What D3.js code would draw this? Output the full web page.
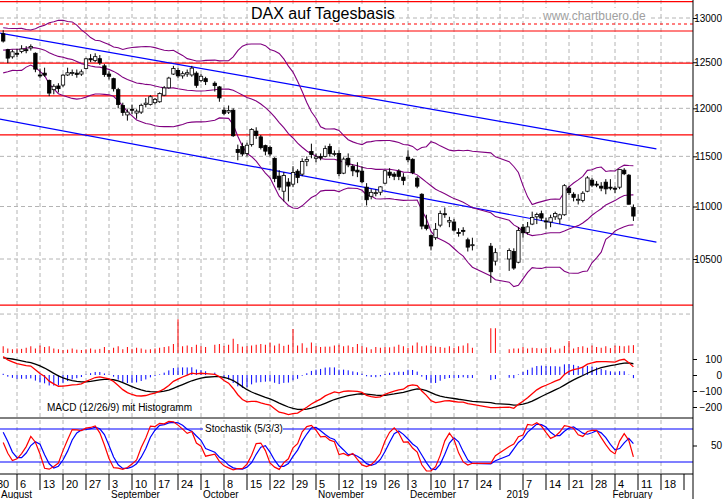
<!DOCTYPE html>
<html>
<head>
<meta charset="utf-8">
<script src="https://cdn.jsdelivr.net/npm/d3@7"></script>
<style>
body { margin: 0; background: #fff; }
text { font-family: Arial, "Liberation Sans", sans-serif; }
</style>
</head>
<body>
<svg id="chart" width="723" height="499"></svg>
<script>
// trading days, July rows are only history for the indicators
var days = ["2018-07-02","2018-07-03","2018-07-04","2018-07-05","2018-07-06","2018-07-09","2018-07-10","2018-07-11","2018-07-12","2018-07-13","2018-07-16","2018-07-17","2018-07-18","2018-07-19","2018-07-20","2018-07-23","2018-07-24","2018-07-25","2018-07-26","2018-07-27","2018-07-30","2018-07-31",
"2018-08-01","2018-08-02","2018-08-03","2018-08-06","2018-08-07","2018-08-08","2018-08-09","2018-08-10","2018-08-13","2018-08-14","2018-08-15","2018-08-16","2018-08-17","2018-08-20","2018-08-21","2018-08-22","2018-08-23","2018-08-24","2018-08-27","2018-08-28","2018-08-29","2018-08-30","2018-08-31",
"2018-09-03","2018-09-04","2018-09-05","2018-09-06","2018-09-07","2018-09-10","2018-09-11","2018-09-12","2018-09-13","2018-09-14","2018-09-17","2018-09-18","2018-09-19","2018-09-20","2018-09-21","2018-09-24","2018-09-25","2018-09-26","2018-09-27","2018-09-28",
"2018-10-01","2018-10-02","2018-10-04","2018-10-05","2018-10-08","2018-10-09","2018-10-10","2018-10-11","2018-10-12","2018-10-15","2018-10-16","2018-10-17","2018-10-18","2018-10-19","2018-10-22","2018-10-23","2018-10-24","2018-10-25","2018-10-26","2018-10-29","2018-10-30","2018-10-31",
"2018-11-01","2018-11-02","2018-11-05","2018-11-06","2018-11-07","2018-11-08","2018-11-09","2018-11-12","2018-11-13","2018-11-14","2018-11-15","2018-11-16","2018-11-19","2018-11-20","2018-11-21","2018-11-22","2018-11-23","2018-11-26","2018-11-27","2018-11-28","2018-11-29","2018-11-30",
"2018-12-03","2018-12-04","2018-12-05","2018-12-06","2018-12-07","2018-12-10","2018-12-11","2018-12-12","2018-12-13","2018-12-14","2018-12-17","2018-12-18","2018-12-19","2018-12-20","2018-12-21","2018-12-27","2018-12-28",
"2019-01-02","2019-01-03","2019-01-04","2019-01-07","2019-01-08","2019-01-09","2019-01-10","2019-01-11","2019-01-14","2019-01-15","2019-01-16","2019-01-17","2019-01-18","2019-01-21","2019-01-22","2019-01-23","2019-01-24","2019-01-25","2019-01-28","2019-01-29","2019-01-30","2019-01-31",
"2019-02-01","2019-02-04","2019-02-05","2019-02-06","2019-02-07","2019-02-08"];

var open = [12300,12270,12340,12350,12440,12550,12620,12480,12470,12500,12560,12560,12680,12730,12680,12520,12640,12670,12720,12840,12830,12760,
12820,12640,12560,12600,12620,12640,12660,12600,12360,12380,12300,12200,12240,12250,12360,12380,12380,12370,12430,12540,12520,12540,12460,
12370,12320,12200,12030,11930,11990,11950,11960,12040,12040,12060,12070,12140,12220,12370,12410,12350,12370,12360,12380,
12300,12320,12270,12230,11980,11960,11980,11570,11600,11530,11620,11760,11700,11610,11590,11480,11300,11150,11240,11220,11350,11320,
11450,11550,11480,11500,11500,11600,11520,11530,11330,11480,11400,11360,11350,11190,11100,11130,11140,11230,11340,11320,11350,11290,
11490,11470,11280,11120,10820,10720,10700,10820,10930,10850,10850,10750,10770,10680,10630,10620,10480,
10500,10570,10470,10800,10750,10830,10900,10930,10860,10850,10900,10880,10920,11180,11120,11070,11060,11150,11260,11220,11200,11240,
11190,11180,11190,11360,11310,10990];
var high = [12330,12380,12360,12480,12510,12630,12660,12500,12510,12550,12590,12670,12780,12760,12700,12560,12730,12700,12830,12890,12850,12830,
12860,12650,12640,12650,12690,12680,12700,12610,12430,12440,12310,12260,12270,12370,12440,12420,12420,12420,12550,12590,12600,12580,12480,
12400,12330,12220,12060,11990,12040,11990,12050,12110,12140,12110,12170,12240,12340,12460,12440,12400,12420,12460,12400,
12370,12340,12290,12240,12010,12030,12000,11620,11640,11640,11790,11800,11720,11620,11610,11490,11360,11340,11280,11400,11370,11480,
11500,11630,11530,11530,11610,11630,11560,11560,11490,11530,11420,11440,11400,11230,11170,11170,11200,11360,11380,11340,11370,11330,
11560,11480,11300,11130,10920,10730,10840,10960,10990,10900,10880,10790,10800,10700,10700,10650,10600,
10600,10600,10800,10830,10850,10950,10940,10960,10890,10920,10950,10930,11220,11200,11140,11120,11150,11300,11280,11250,11240,11270,
11270,11200,11370,11380,11320,11020];
var low = [12105,12230,12280,12330,12380,12540,12590,12390,12440,12480,12520,12540,12670,12650,12540,12480,12620,12560,12700,12790,12770,12740,
12720,12490,12540,12560,12600,12600,12630,12390,12330,12340,12130,12150,12170,12230,12350,12350,12330,12350,12420,12500,12500,12470,12340,
12310,12180,12000,11920,11870,11940,11890,11940,12010,12030,12040,12060,12130,12210,12360,12330,12320,12340,12340,12220,
12280,12250,12180,12070,11930,11940,11700,11460,11500,11500,11600,11680,11570,11510,11500,11240,11160,11050,11050,11190,11230,11300,
11400,11480,11440,11460,11490,11500,11500,11300,11320,11390,11300,11290,11230,11010,11070,11100,11110,11220,11280,11260,11260,11210,
11440,11320,11180,10780,10770,10580,10680,10800,10890,10800,10760,10710,10720,10570,10580,10280,10440,
10390,10400,10460,10700,10730,10820,10830,10860,10780,10800,10870,10830,10910,11110,11050,11020,11040,11140,11190,11190,11150,11120,
11160,11130,11170,11310,11020,10860];
var close = [12238,12349,12318,12465,12496,12609,12621,12417,12492,12541,12562,12661,12765,12686,12561,12548,12690,12579,12810,12860,12799,12806,
12737,12546,12616,12598,12648,12634,12676,12424,12358,12358,12163,12237,12211,12358,12384,12386,12365,12394,12538,12527,12562,12494,12364,
12346,12210,12040,11955,11960,11987,11970,12032,12055,12124,12096,12158,12219,12326,12431,12350,12374,12385,12435,12247,
12346,12287,12244,12111,11947,11977,11712,11539,11524,11614,11777,11715,11589,11553,11524,11275,11191,11307,11201,11336,11287,11447,
11468,11519,11495,11484,11579,11527,11529,11325,11472,11413,11353,11342,11244,11066,11139,11136,11193,11354,11309,11299,11298,11257,
11465,11335,11200,10811,10788,10622,10780,10931,10924,10865,10772,10740,10766,10611,10634,10382,10559,
10580,10416,10768,10747,10803,10893,10922,10888,10856,10891,10932,10919,11205,11136,11090,11071,11130,11282,11210,11218,11181,11173,
11180,11176,11368,11324,11022,10907];
var volume = [80,70,60,75,70,65,70,80,70,65,60,70,75,70,80,65,75,80,70,75,70,80,
90,60,50,60,55,70,90,60,100,80,90,60,50,40,45,60,45,40,50,60,45,55,80,
40,70,90,50,80,55,70,60,45,50,60,70,80,90,120,450,90,100,80,110,
90,80,110,120,95,110,190,120,85,90,100,110,120,110,140,100,125,95,110,320,100,130,
70,140,90,80,85,85,100,110,90,100,80,120,90,75,50,80,70,80,75,85,110,90,
70,100,140,90,100,95,85,80,70,90,70,90,100,130,70,330,330,
50,60,60,80,60,70,65,60,70,75,45,60,95,160,60,80,90,70,100,80,70,90,
65,100,95,90,100,105];

var priceTicks = [10500, 11000, 11500, 12000, 12500, 13000];
var levels = [13190, 12851, 12490, 12133, 11720, 10080];
var dottedLevel = 12931;
var trendUpper = [["2018-07-30", 12840], ["2019-02-15", 11576]];
var trendLower = [["2018-07-30", 11898], ["2019-02-15", 10659]];
var macdTicks = [100, 0, -100, -200];
var weekLabels = ["30","6","13","20","27","3","10","17","24","1","8","15","22","29","5","12","19","26","3","10","17","24","","7","14","21","28","4","11","18"];
var monthLabels = [["August","2018-07-31"],["September","2018-09-03"],["October","2018-10-01"],["November","2018-11-05"],["December","2018-12-03"],["2019","2019-01-01"],["February","2019-02-01"]];

var parse = d3.timeParse("%Y-%m-%d");
var t0 = parse("2018-07-30");
// weekday index since Monday 30 July
function wd(s) {
    var d = parse(s);
    var n = Math.round((d - t0) / 864e5);
    return Math.floor(n / 7) * 5 + (n % 7);
}

var data = days.map((d, i) => ({
    date: d, i: wd(d), o: open[i], h: high[i], l: low[i], c: close[i], v: volume[i]
}));

// indicators
data.forEach((d, i) => {
    if (i >= 19) {
        var w = data.slice(i - 19, i + 1).map(e => e.c);
        var m = d3.mean(w);
        var sd = Math.sqrt(d3.mean(w, x => (x - m) * (x - m)));
        d.mid = m; d.up = m + 2 * sd; d.lo = m - 2 * sd;
    }
});
var e12, e26, sig;
data.forEach((d, i) => {
    if (i === 0) { e12 = d.c; e26 = d.c; }
    e12 = e12 + (d.c - e12) * 2 / 13;
    e26 = e26 + (d.c - e26) * 2 / 27;
    d.macd = e12 - e26;
    sig = i === 0 ? d.macd : sig + (d.macd - sig) * 2 / 10;
    d.sig = sig;
    d.hist = d.macd - d.sig;
});
data.forEach((d, i) => {
    if (i >= 4) {
        var w = data.slice(i - 4, i + 1);
        var hh = d3.max(w, e => e.h), ll = d3.min(w, e => e.l);
        d.raw = (d.c - ll) / (hh - ll) * 100;
    }
});
data.forEach((d, i) => {
    if (i >= 6) d.k = d3.mean(data.slice(i - 2, i + 1), e => e.raw);
});
data.forEach((d, i) => {
    if (i >= 8) d.dd = d3.mean(data.slice(i - 2, i + 1), e => e.k);
});

var shown = data.filter(d => d.date >= "2018-08-01");

var svg = d3.select("#chart");
var x = d3.scaleLinear().domain([0, 1]).range([-6, -1.4]);
var right = 693;
var y = d3.scaleLog().domain([10500, 13000]).range([259, 18]);
var ym = d3.scaleLinear().domain([0, 100]).range([375, 359]);
var yv = d3.scaleLinear().domain([0, 100]).range([353, 345.5]);
var ys = d3.scaleLinear().domain([0, 100]).range([473, 418]);

var defs = svg.append("defs");
defs.append("clipPath").attr("id", "pc").append("rect").attr("x", 0).attr("y", 0).attr("width", right).attr("height", 318);

// vertical grid on Mondays
var mondays = d3.range(1, 30);
svg.selectAll(".vg").data(mondays).enter().append("line")
    .attr("x1", k => x(k * 5)).attr("x2", k => x(k * 5))
    .attr("y1", 0).attr("y2", 474)
    .attr("stroke", "#b4b4b4").attr("stroke-dasharray", "4,3");
svg.selectAll(".hg").data([10000].concat(priceTicks)).enter().append("line")
    .attr("x1", 0).attr("x2", right).attr("y1", d => y(d)).attr("y2", d => y(d))
    .attr("stroke", "#b4b4b4").attr("stroke-dasharray", "4,3");

// title
svg.append("rect").attr("x", 248).attr("y", 4).attr("width", 144).attr("height", 19).attr("fill", "#fff");
svg.append("text").attr("x", 251).attr("y", 19).attr("font-size", 16).text("DAX auf Tagesbasis");
svg.append("rect").attr("x", 541).attr("y", 8).attr("width", 108).attr("height", 14).attr("fill", "#fff");
svg.append("text").attr("x", 543).attr("y", 20).attr("font-size", 12).attr("fill", "#a0a0a0").text("www.chartbuero.de");

var pg = svg.append("g").attr("clip-path", "url(#pc)");

// horizontal levels
pg.selectAll(".lv").data(levels).enter().append("line")
    .attr("x1", 0).attr("x2", right).attr("y1", d => y(d)).attr("y2", d => y(d))
    .attr("stroke", "#ff0000").attr("stroke-width", 1.2);
pg.append("line").attr("x1", 0).attr("x2", right).attr("y1", y(dottedLevel)).attr("y2", y(dottedLevel))
    .attr("stroke", "#ff0000").attr("stroke-dasharray", "3,3");

// trend lines
[trendUpper, trendLower].forEach(t => {
    pg.append("line")
        .attr("x1", x(wd(t[0][0]))).attr("y1", y(t[0][1]))
        .attr("x2", x(wd(t[1][0]))).attr("y2", y(t[1][1]))
        .attr("stroke", "#0000ff").attr("stroke-width", 1.2);
});

// bollinger
["up", "mid", "lo"].forEach(key => {
    pg.append("path").datum(shown)
        .attr("fill", "none").attr("stroke", "#800080").attr("stroke-width", 1.1)
        .attr("d", d3.line().x(d => x(d.i)).y(d => y(d[key])));
});

// candles
var cg = pg.selectAll(".cd").data(shown).enter().append("g");
cg.append("line")
    .attr("x1", d => x(d.i)).attr("x2", d => x(d.i))
    .attr("y1", d => y(d.h)).attr("y2", d => y(d.l))
    .attr("stroke", "#000");
cg.append("rect")
    .attr("x", d => x(d.i) - 1.7).attr("width", 3.4)
    .attr("y", d => y(Math.max(d.o, d.c)))
    .attr("height", d => Math.max(1, Math.abs(y(d.o) - y(d.c))))
    .attr("fill", d => d.c < d.o ? "#000" : "#fff")
    .attr("stroke", "#000").attr("stroke-width", 0.8);

// volume bars
svg.selectAll(".vb").data(shown).enter().append("line")
    .attr("x1", d => x(d.i)).attr("x2", d => x(d.i))
    .attr("y1", yv(0)).attr("y2", d => yv(d.v))
    .attr("stroke", "#ff0000");

// macd
svg.selectAll(".hb").data(shown).enter().append("line")
    .attr("x1", d => x(d.i)).attr("x2", d => x(d.i))
    .attr("y1", ym(0)).attr("y2", d => ym(d.hist))
    .attr("stroke", "#0000ff");
svg.append("path").datum(shown).attr("fill", "none").attr("stroke", "#000").attr("stroke-width", 1.3)
    .attr("d", d3.line().x(d => x(d.i)).y(d => ym(d.sig)));
svg.append("path").datum(shown).attr("fill", "none").attr("stroke", "#ff0000").attr("stroke-width", 1.3)
    .attr("d", d3.line().x(d => x(d.i)).y(d => ym(d.macd)));
svg.append("text").attr("x", 47).attr("y", 411).attr("font-size", 10).text("MACD (12/26/9) mit Histogramm");

// stochastic
svg.selectAll(".sl").data([20, 80]).enter().append("line")
    .attr("x1", 0).attr("x2", right).attr("y1", d => ys(d)).attr("y2", d => ys(d))
    .attr("stroke", "#0000ff").attr("stroke-width", 1.2);
svg.append("path").datum(shown).attr("fill", "none").attr("stroke", "#0000ff").attr("stroke-width", 1.2)
    .attr("d", d3.line().x(d => x(d.i)).y(d => ys(d.dd)));
svg.append("path").datum(shown).attr("fill", "none").attr("stroke", "#ff0000").attr("stroke-width", 1.2)
    .attr("d", d3.line().x(d => x(d.i)).y(d => ys(d.k)));
svg.append("rect").attr("x", 203).attr("y", 422).attr("width", 80).attr("height", 12).attr("fill", "#fff");
svg.append("text").attr("x", 205).attr("y", 432).attr("font-size", 10).text("Stochastik (5/3/3)");

// frames
svg.selectAll(".sep").data([418, 474]).enter().append("line")
    .attr("x1", 0).attr("x2", right).attr("y1", d => d).attr("y2", d => d)
    .attr("stroke", "#000");
svg.append("line").attr("x1", right).attr("x2", right).attr("y1", 0).attr("y2", 499).attr("stroke", "#000");

// right axes
var ax = svg.append("g").attr("transform", "translate(" + right + ",0)");
ax.call(d3.axisRight(y).tickValues(priceTicks).tickSize(4).tickFormat(d3.format("d")));
ax.append("g").call(d3.axisRight(ym).tickValues(macdTicks).tickSize(4).tickFormat(d3.format("d")));
ax.append("g").call(d3.axisRight(ys).tickValues([50]).tickSize(4));
ax.selectAll(".domain").remove();
ax.selectAll("text").attr("x", null).attr("text-anchor", "end").attr("dx", null)
    .attr("transform", "translate(29,0)").attr("font-size", 10).attr("fill", "#000")
    .style("font-family", "Arial, 'Liberation Sans', sans-serif");
ax.selectAll("line").attr("stroke", "#000");

// bottom labels
svg.selectAll(".wl").data(weekLabels).enter().append("text")
    .attr("x", (d, k) => x(k * 5) + 3).attr("y", 488).attr("font-size", 11).text(d => d);
svg.selectAll(".wt").data(d3.range(0, 31)).enter().append("line")
    .attr("x1", k => x(k * 5)).attr("x2", k => x(k * 5)).attr("y1", 474).attr("y2", 490).attr("stroke", "#000");
svg.selectAll(".ml").data(monthLabels).enter().append("text")
    .attr("x", d => Math.max(1, x(wd(d[1])) + 2)).attr("y", 498).attr("font-size", 10).text(d => d[0]);
</script>
</body>
</html>
